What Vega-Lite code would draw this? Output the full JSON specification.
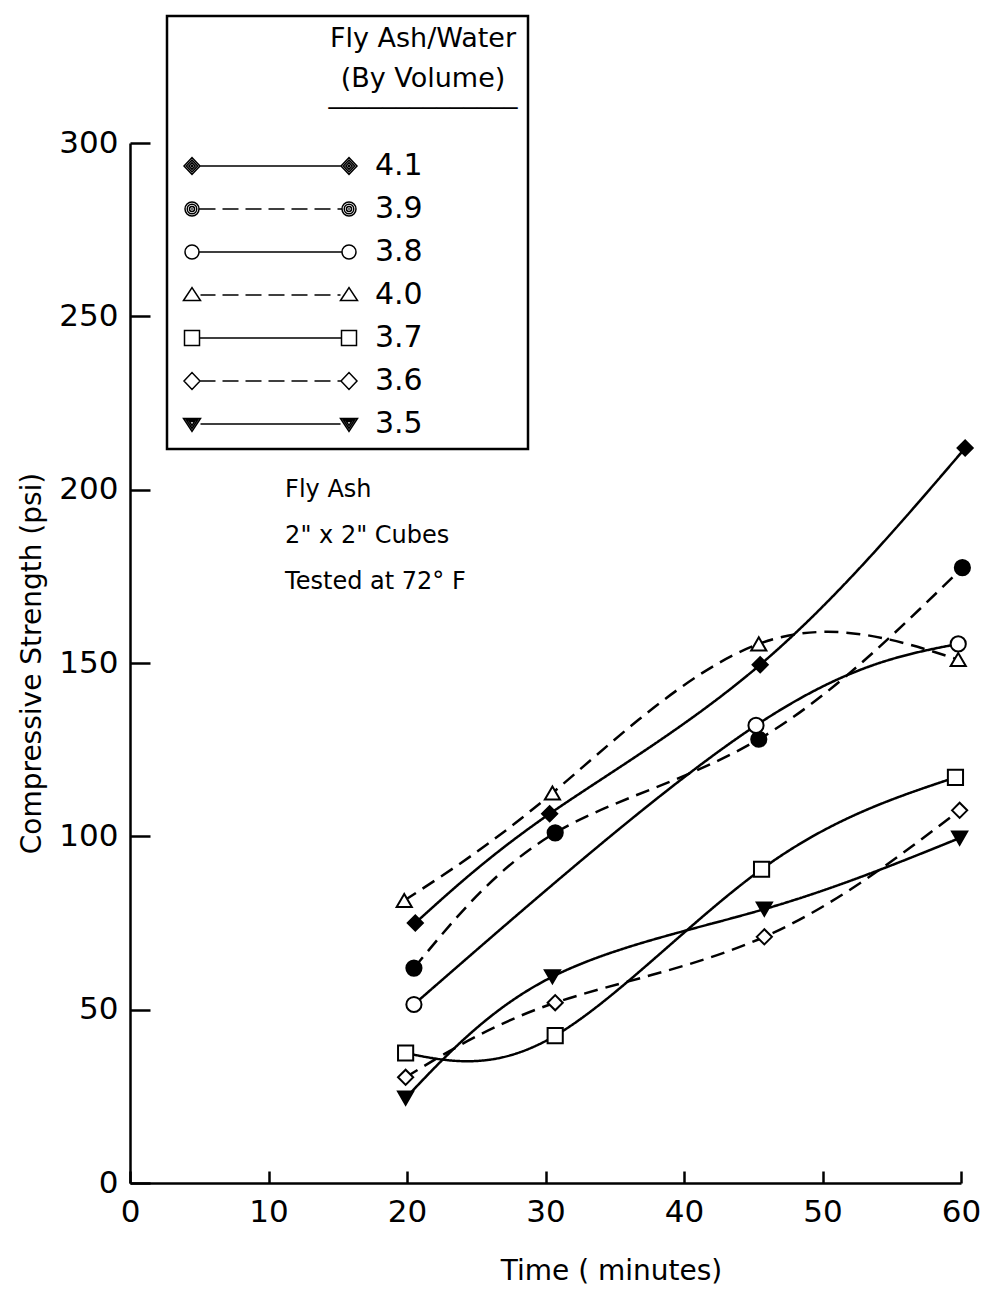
{
  "$schema": "https://vega.github.io/schema/vega-lite/v6.json",
  "width": 831,
  "height": 1040,
  "autosize": {"type": "none"},
  "padding": {"left": 130, "top": 143, "right": 21, "bottom": 113},
  "background": "white",
  "config": {
    "font": "DejaVu Sans",
    "view": {"stroke": null},
    "axis": {
      "grid": false,
      "domainColor": "black",
      "domainWidth": 2.5,
      "tickColor": "black",
      "tickWidth": 2.5,
      "labelColor": "black",
      "labelFontSize": 31,
      "titleColor": "black",
      "titleFontSize": 28,
      "titleFontWeight": "normal"
    },
    "legend": {"strokeWidth": 2.5}
  },
  "data": {
    "values": [
      {"ratio": "4.1", "time": 20.6, "strength": 75},
      {"ratio": "4.1", "time": 30.3, "strength": 106.5},
      {"ratio": "4.1", "time": 45.5, "strength": 149.5},
      {"ratio": "4.1", "time": 60.3, "strength": 212},
      {"ratio": "3.9", "time": 20.5, "strength": 62},
      {"ratio": "3.9", "time": 30.7, "strength": 101},
      {"ratio": "3.9", "time": 45.4, "strength": 128},
      {"ratio": "3.9", "time": 60.1, "strength": 177.5},
      {"ratio": "3.8", "time": 20.5, "strength": 51.5},
      {"ratio": "3.8", "time": 45.2, "strength": 132},
      {"ratio": "3.8", "time": 59.8, "strength": 155.5},
      {"ratio": "4.0", "time": 19.8, "strength": 81.5},
      {"ratio": "4.0", "time": 30.5, "strength": 112.5},
      {"ratio": "4.0", "time": 45.4, "strength": 155.5},
      {"ratio": "4.0", "time": 59.8, "strength": 151},
      {"ratio": "3.7", "time": 19.9, "strength": 37.5},
      {"ratio": "3.7", "time": 30.7, "strength": 42.5},
      {"ratio": "3.7", "time": 45.6, "strength": 90.5},
      {"ratio": "3.7", "time": 59.6, "strength": 117},
      {"ratio": "3.6", "time": 19.9, "strength": 30.5},
      {"ratio": "3.6", "time": 30.7, "strength": 52},
      {"ratio": "3.6", "time": 45.8, "strength": 71},
      {"ratio": "3.6", "time": 59.9, "strength": 107.5},
      {"ratio": "3.5", "time": 19.9, "strength": 24.5},
      {"ratio": "3.5", "time": 30.5, "strength": 59.5},
      {"ratio": "3.5", "time": 45.8, "strength": 79},
      {"ratio": "3.5", "time": 59.9, "strength": 99.5}
    ]
  },
  "layer": [
    {
      "mark": {"type": "line", "interpolate": "natural", "color": "black", "strokeWidth": 2.5},
      "encoding": {
        "x": {
          "field": "time", "type": "quantitative",
          "scale": {"domain": [0, 60], "nice": false, "zero": false},
          "axis": {
            "values": [0, 10, 20, 30, 40, 50, 60],
            "tickSize": -12,
            "labelPadding": 26,
            "labelFlush": false,
            "labelOverlap": false,
            "title": "Time ( minutes)",
            "titlePadding": 30,
            "titleX": 481
          }
        },
        "y": {
          "field": "strength", "type": "quantitative",
          "scale": {"domain": [0, 300], "nice": false},
          "axis": {
            "values": [0, 50, 100, 150, 200, 250, 300],
            "tickSize": -20,
            "labelPadding": 32,
            "labelFlush": false,
            "labelOverlap": false,
            "title": "Compressive Strength (psi)",
            "titlePadding": 12
          }
        },
        "strokeDash": {
          "field": "ratio", "type": "nominal",
          "scale": {
            "domain": ["3.5", "3.6", "3.7", "3.8", "3.9", "4.0", "4.1"],
            "range": [[1, 0], [14, 8], [1, 0], [1, 0], [14, 8], [14, 8], [1, 0]]
          },
          "legend": null
        }
      }
    },
    {
      "transform": [{"filter": "datum.ratio == '4.1'"}],
      "mark": {"type": "point", "shape": "diamond", "filled": true, "fill": "black", "opacity": 1, "stroke": "black", "strokeWidth": 2, "size": 230},
      "encoding": {"x": {"field": "time", "type": "quantitative"}, "y": {"field": "strength", "type": "quantitative"}}
    },
    {
      "transform": [{"filter": "datum.ratio == '3.9'"}],
      "mark": {"type": "point", "shape": "circle", "filled": true, "fill": "black", "opacity": 1, "stroke": "black", "strokeWidth": 2, "size": 230},
      "encoding": {"x": {"field": "time", "type": "quantitative"}, "y": {"field": "strength", "type": "quantitative"}}
    },
    {
      "transform": [{"filter": "datum.ratio == '3.8'"}],
      "mark": {"type": "point", "shape": "circle", "filled": true, "fill": "white", "opacity": 1, "stroke": "black", "strokeWidth": 2, "size": 230},
      "encoding": {"x": {"field": "time", "type": "quantitative"}, "y": {"field": "strength", "type": "quantitative"}}
    },
    {
      "transform": [{"filter": "datum.ratio == '4.0'"}],
      "mark": {"type": "point", "shape": "triangle-up", "filled": true, "fill": "white", "opacity": 1, "stroke": "black", "strokeWidth": 2, "size": 230},
      "encoding": {"x": {"field": "time", "type": "quantitative"}, "y": {"field": "strength", "type": "quantitative"}}
    },
    {
      "transform": [{"filter": "datum.ratio == '3.7'"}],
      "mark": {"type": "point", "shape": "square", "filled": true, "fill": "white", "opacity": 1, "stroke": "black", "strokeWidth": 2, "size": 230},
      "encoding": {"x": {"field": "time", "type": "quantitative"}, "y": {"field": "strength", "type": "quantitative"}}
    },
    {
      "transform": [{"filter": "datum.ratio == '3.6'"}],
      "mark": {"type": "point", "shape": "diamond", "filled": true, "fill": "white", "opacity": 1, "stroke": "black", "strokeWidth": 2, "size": 230},
      "encoding": {"x": {"field": "time", "type": "quantitative"}, "y": {"field": "strength", "type": "quantitative"}}
    },
    {
      "transform": [{"filter": "datum.ratio == '3.5'"}],
      "mark": {"type": "point", "shape": "triangle-down", "filled": true, "fill": "black", "opacity": 1, "stroke": "black", "strokeWidth": 2, "size": 230},
      "encoding": {"x": {"field": "time", "type": "quantitative"}, "y": {"field": "strength", "type": "quantitative"}}
    },
    {
      "transform": [{"filter": "datum.strength < 0"}],
      "mark": {"type": "point", "filled": false, "opacity": 1, "fill": "white", "stroke": "black", "strokeWidth": 2.5, "size": 100},
      "encoding": {
        "x": {"field": "time", "type": "quantitative"},
        "y": {"field": "strength", "type": "quantitative"},
        "shape": {
          "field": "ratio", "type": "nominal",
          "scale": {
            "domain": ["4.1", "3.9", "3.8", "4.0", "3.7", "3.6", "3.5"],
            "range": [
              "M-1.6,0L0,-1.7L1.6,0L0,1.7ZM-1.12,0L0,-1.19L1.12,0L0,1.19ZM-0.64,0L0,-0.68L0.64,0L0,0.68ZM-0.16,0L0,-0.17L0.16,0L0,0.17ZM29.8,0L31.4,-1.7L33,0L31.4,1.7ZM30.28,0L31.4,-1.19L32.52,0L31.4,1.19ZM30.76,0L31.4,-0.68L32.04,0L31.4,0.68ZM31.24,0L31.4,-0.17L31.56,0L31.4,0.17ZM1.6,0L29.8,0",
              "M-1.4,0A1.4,1.4,0,1,1,1.4,0A1.4,1.4,0,1,1,-1.4,0ZM-0.95,0A0.95,0.95,0,1,1,0.95,0A0.95,0.95,0,1,1,-0.95,0ZM-0.5,0A0.5,0.5,0,1,1,0.5,0A0.5,0.5,0,1,1,-0.5,0ZM-0.15,0L0.15,0M30,0A1.4,1.4,0,1,1,32.8,0A1.4,1.4,0,1,1,30,0ZM30.45,0A0.95,0.95,0,1,1,32.35,0A0.95,0.95,0,1,1,30.45,0ZM30.9,0A0.5,0.5,0,1,1,31.9,0A0.5,0.5,0,1,1,30.9,0ZM31.25,0L31.55,0M1.4,0L4.7,0M6.1,0L9.3,0M10.7,0L13.9,0M15.3,0L18.5,0M19.9,0L23.1,0M24.5,0L27.7,0M29.1,0L30,0",
              "M-1.4,0A1.4,1.4,0,1,1,1.4,0A1.4,1.4,0,1,1,-1.4,0ZM30,0A1.4,1.4,0,1,1,32.8,0A1.4,1.4,0,1,1,30,0ZM1.4,0L30,0",
              "M-1.7,1.1L0,-1.5L1.7,1.1ZM29.7,1.1L31.4,-1.5L33.1,1.1ZM1.7,0L4.7,0M6.1,0L9.3,0M10.7,0L13.9,0M15.3,0L18.5,0M19.9,0L23.1,0M24.5,0L27.7,0M29.1,0L29.7,0",
              "M-1.5,-1.5L1.5,-1.5L1.5,1.5L-1.5,1.5ZM29.9,-1.5L32.9,-1.5L32.9,1.5L29.9,1.5ZM1.5,0L29.9,0",
              "M-1.6,0L0,-1.7L1.6,0L0,1.7ZM29.8,0L31.4,-1.7L33,0L31.4,1.7ZM1.6,0L4.7,0M6.1,0L9.3,0M10.7,0L13.9,0M15.3,0L18.5,0M19.9,0L23.1,0M24.5,0L27.7,0M29.1,0L29.8,0",
              "M-1.7,-1.1L1.7,-1.1L0,1.5ZM-1.1,-0.8L1.1,-0.8L0,0.89ZM-0.51,-0.49L0.51,-0.49L0,0.29ZM29.7,-1.1L33.1,-1.1L31.4,1.5ZM30.3,-0.8L32.5,-0.8L31.4,0.89ZM30.89,-0.49L31.91,-0.49L31.4,0.29ZM1.7,0L29.7,0"
            ]
          },
          "legend": {
            "orient": "none",
            "direction": "vertical",
            "legendX": 37,
            "legendY": -127,
            "title": ["Fly Ash/Water", "(By Volume)", "‾‾‾‾‾‾‾‾‾‾‾‾‾‾"],
            "titleAnchor": "end",
            "titleAlign": "center",
            "titleFontSize": 27,
            "titleFontWeight": "normal",
            "titleLineHeight": 40,
            "titleColor": "black",
            "titleLimit": 400,
            "titlePadding": 18,
            "labelFontSize": 30,
            "labelColor": "black",
            "labelOffset": 168,
            "symbolSize": 100,
            "rowPadding": 13,
            "padding": 10,
            "strokeColor": "black",
            "fillColor": "white"
          }
        }
      }
    },
    {
      "data": {"values": [{}]},
      "mark": {
        "type": "text",
        "text": ["Fly Ash", "2\" x 2\" Cubes", "Tested at 72° F"],
        "align": "left",
        "baseline": "top",
        "lineHeight": 46,
        "fontSize": 24,
        "color": "black"
      },
      "encoding": {
        "x": {"datum": 11.2},
        "y": {"datum": 203.5}
      }
    }
  ]
}
